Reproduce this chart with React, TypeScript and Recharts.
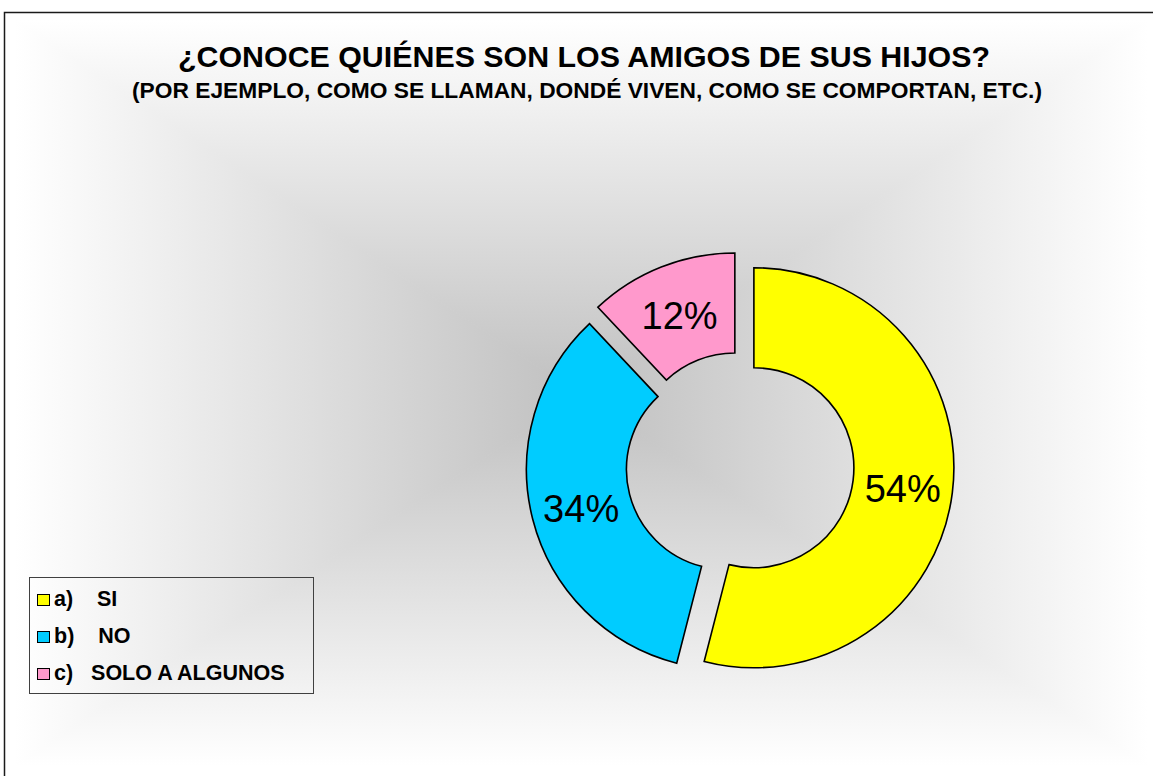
import React from 'react';
import { PieChart, Pie, Cell, Legend } from 'recharts';

const categories = ['a)    SI', 'b)    NO', 'c)   SOLO A ALGUNOS'];
const values = [54, 34, 12];
const colors = ['#FFFF00', '#00CCFF', '#FF99CC'];
const title = '¿CONOCE QUIÉNES SON LOS AMIGOS DE SUS HIJOS?';
const subtitle = '(POR EJEMPLO, COMO SE LLAMAN, DONDÉ VIVEN, COMO SE COMPORTAN, ETC.)';

const data = categories.map((name, i) => ({ name, value: values[i] }));

const W = 1153;
const H = 776;
const CX = 740;
const CY = 466;
const INNER = 100;
const OUTER = 200;
const EXPLODE = 14;
const FONT = '"Liberation Sans", Arial, Helvetica, sans-serif';

const total = values.reduce((a, b) => a + b, 0);

function sliceMid(i: number) {
  const before = values.slice(0, i).reduce((a, b) => a + b, 0);
  return 90 - (360 * (before + values[i] / 2)) / total;
}

function offsetFor(i: number) {
  const rad = (sliceMid(i) * Math.PI) / 180;
  return { dx: EXPLODE * Math.cos(rad), dy: -EXPLODE * Math.sin(rad) };
}

const makeLabel = (k: number) => (props: any) => {
  if (props.index !== k) return null;
  const { cx, cy, midAngle, innerRadius, outerRadius, value } = props;
  const r = (Number(innerRadius) + Number(outerRadius)) / 2;
  const rad = (-midAngle * Math.PI) / 180;
  const x = Number(cx) + r * Math.cos(rad);
  const y = Number(cy) + r * Math.sin(rad);
  return (
    <text
      x={x}
      y={y + 2}
      textAnchor="middle"
      dominantBaseline="central"
      fontSize={38}
      fontFamily={FONT}
      fill="#000"
    >
      {`${value}%`}
    </text>
  );
};

const LegendBox = (props: any) => {
  const seen = new Set<string>();
  const items: string[] = [];
  (props.payload || []).forEach((p: any) => {
    const v = String(p.value);
    if (categories.includes(v) && !seen.has(v)) {
      seen.add(v);
      items.push(v);
    }
  });
  return (
    <div
      style={{
        width: 285,
        height: 117,
        border: '1px solid #404040',
        boxSizing: 'border-box',
        position: 'relative',
        fontFamily: FONT,
        fontWeight: 'bold',
        fontSize: 21.5,
        color: '#000',
      }}
    >
      {items.map((name, j) => {
        const i = categories.indexOf(name);
        return (
          <div
            key={name}
            style={{
              position: 'absolute',
              left: 7,
              top: 3 + j * 37,
              height: 37,
              lineHeight: '37px',
              display: 'flex',
              alignItems: 'center',
              whiteSpace: 'pre',
            }}
          >
            <span
              style={{
                display: 'inline-block',
                width: 13,
                height: 12,
                background: colors[i],
                border: '1px solid #000',
                boxSizing: 'border-box',
                marginRight: 4,
              }}
            />
            <span>{name}</span>
          </div>
        );
      })}
    </div>
  );
};

const GX0 = 15;
const GX1 = 1148;
const GY0 = 20;
const GY1 = 766;
const GCX = 580;
const GCY = 395;
const EDGE = '#ffffff';
const CENTER = '#c0c0c0';

const Background = () => (
  <svg width={W} height={H} style={{ position: 'absolute', left: 0, top: 0 }}>
    <defs>
      <linearGradient id="gTop" gradientUnits="userSpaceOnUse" x1={0} y1={GY0} x2={0} y2={GCY}>
        <stop offset="0" stopColor={EDGE} />
        <stop offset="1" stopColor={CENTER} />
      </linearGradient>
      <linearGradient id="gBot" gradientUnits="userSpaceOnUse" x1={0} y1={GY1} x2={0} y2={GCY}>
        <stop offset="0" stopColor={EDGE} />
        <stop offset="1" stopColor={CENTER} />
      </linearGradient>
      <linearGradient id="gLeft" gradientUnits="userSpaceOnUse" x1={GX0} y1={0} x2={GCX} y2={0}>
        <stop offset="0" stopColor={EDGE} />
        <stop offset="1" stopColor={CENTER} />
      </linearGradient>
      <linearGradient id="gRight" gradientUnits="userSpaceOnUse" x1={GX1} y1={0} x2={GCX} y2={0}>
        <stop offset="0" stopColor={EDGE} />
        <stop offset="1" stopColor={CENTER} />
      </linearGradient>
    </defs>
    <rect x={0} y={0} width={W} height={H} fill="#ffffff" />
    <polygon points={`${GX0},${GY0} ${GX1},${GY0} ${GCX},${GCY}`} fill="url(#gTop)" stroke="url(#gTop)" strokeWidth={1} />
    <polygon points={`${GX0},${GY1} ${GX1},${GY1} ${GCX},${GCY}`} fill="url(#gBot)" stroke="url(#gBot)" strokeWidth={1} />
    <polygon points={`${GX0},${GY0} ${GX0},${GY1} ${GCX},${GCY}`} fill="url(#gLeft)" stroke="url(#gLeft)" strokeWidth={1} />
    <polygon points={`${GX1},${GY0} ${GX1},${GY1} ${GCX},${GCY}`} fill="url(#gRight)" stroke="url(#gRight)" strokeWidth={1} />
    <rect x={4.5} y={12.5} width={1300} height={900} fill="none" stroke="#1a1a1a" strokeWidth={1.5} />
    <text
      x={584}
      y={67}
      textAnchor="middle"
      fontFamily={FONT}
      fontWeight="bold"
      fontSize={30}
      textLength={812}
      lengthAdjust="spacingAndGlyphs"
      fill="#000"
    >
      {title}
    </text>
    <text
      x={587}
      y={98}
      textAnchor="middle"
      fontFamily={FONT}
      fontWeight="bold"
      fontSize={22}
      textLength={910}
      lengthAdjust="spacingAndGlyphs"
      fill="#000"
    >
      {subtitle}
    </text>
  </svg>
);

export default function App() {
  return (
    <div
      style={{
        position: 'absolute',
        left: 0,
        top: 0,
        width: W,
        height: H,
        overflow: 'hidden',
      }}
    >
      <Background />
      <div style={{ position: 'absolute', left: 0, top: 0 }}>
        <PieChart width={W} height={H} margin={{ top: 0, right: 0, bottom: 0, left: 0 }}>
          {values.map((_, k) => {
            const { dx, dy } = offsetFor(k);
            return (
              <Pie
                key={k}
                data={data}
                dataKey="value"
                nameKey="name"
                cx={CX + dx}
                cy={CY + dy}
                innerRadius={INNER}
                outerRadius={OUTER}
                startAngle={90}
                endAngle={-270}
                paddingAngle={0}
                isAnimationActive={false}
                label={makeLabel(k)}
                labelLine={false}
                legendType={k === 0 ? 'square' : 'none'}
              >
                {data.map((d, i) => (
                  <Cell
                    key={d.name}
                    fill={i === k ? colors[i] : 'none'}
                    stroke={i === k ? '#000' : 'none'}
                    strokeWidth={i === k ? 1.6 : 0}
                  />
                ))}
              </Pie>
            );
          })}
          <Legend
            layout="horizontal"
            verticalAlign="bottom"
            align="left"
            content={<LegendBox />}
            wrapperStyle={{ left: 29, top: 577, width: 285, height: 117, bottom: 'auto' }}
          />
        </PieChart>
      </div>
    </div>
  );
}
